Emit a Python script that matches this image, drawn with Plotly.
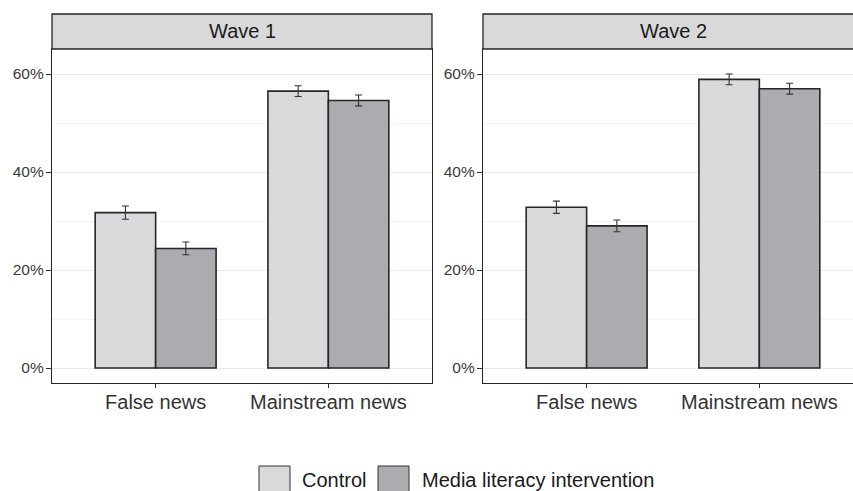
import plotly.graph_objects as go

categories = ["False news", "Mainstream news"]
series_names = ["Control", "Media literacy intervention"]
waves = ["Wave 1", "Wave 2"]

# values in percent
wave1_control = [31.7, 56.5]
wave1_control_err = [1.35, 1.1]
wave1_intervention = [24.4, 54.6]
wave1_intervention_err = [1.3, 1.1]
wave2_control = [32.8, 58.9]
wave2_control_err = [1.25, 1.1]
wave2_intervention = [29.0, 57.0]
wave2_intervention_err = [1.2, 1.1]

y_tickvals = [0, 20, 40, 60]
y_ticktext = ["0%", "20%", "40%", "60%"]

colors = ["#D9D9DB", "#ABACAF"]
W, H = 853, 491
FONT = "Liberation Sans, Arial, sans-serif"
BORDER = "#262626"

fig = go.Figure()

panels = [
    ("x", "y", [wave1_control, wave1_intervention], [wave1_control_err, wave1_intervention_err]),
    ("x2", "y2", [wave2_control, wave2_intervention], [wave2_control_err, wave2_intervention_err]),
]
for xa, ya, vals, errs in panels:
    for i in range(2):
        fig.add_trace(go.Bar(
            x=categories, y=vals[i], name=series_names[i],
            xaxis=xa, yaxis=ya, showlegend=False, offsetgroup=str(i),
            marker=dict(color=colors[i], line=dict(color=BORDER, width=1.6)),
            error_y=dict(type="data", array=errs[i], color="#333333", thickness=1.1, width=3.5),
        ))

# geometry (pixels)
px_l1, px_r1 = 52, 432
px_l2, px_r2 = 483, 863
top, bottom = 49, 383
strip_top = 14
unit = (px_r1 - px_l1) / 2.2

def fx(p):
    return p / W

def fy(p):
    return 1 - p / H

yrange = [-(bottom - 368) / 4.9, (368 - top) / 4.9]

common_y = dict(
    range=yrange, tickvals=y_tickvals, ticktext=y_ticktext,
    ticks="outside", ticklen=5, tickcolor="#333333", tickwidth=1,
    tickfont=dict(family=FONT, size=15.5, color="#3A3A3A"),
    showgrid=True, gridcolor="#EBEBEB", gridwidth=1.1,
    minor=dict(tickvals=[10, 30, 50], showgrid=True, gridcolor="#F3F3F3", gridwidth=0.6, ticks=""),
    zeroline=False, showline=True, linecolor=BORDER, linewidth=1.3,
    domain=[fy(bottom), fy(top)], fixedrange=True, ticklabelstandoff=-1,
)
common_x = dict(
    type="category", ticks="outside", ticklen=4, tickcolor="#333333", tickwidth=1,
    tickfont=dict(family=FONT, size=20, color="#333333"),
    showgrid=False, zeroline=False, showline=True, linecolor=BORDER, linewidth=1.3,
    fixedrange=True, ticklabelstandoff=-3,
)

fig.update_layout(
    width=W, height=H, autosize=False,
    margin=dict(l=0, r=0, t=0, b=0),
    paper_bgcolor="white", plot_bgcolor="white",
    barmode="group", bargap=0.3, bargroupgap=0,
    xaxis=dict(common_x, domain=[fx(px_l1), fx(px_r1)], range=[-0.6, 1.6], mirror=True, anchor="y"),
    yaxis=dict(common_y, mirror=True, anchor="x"),
    xaxis2=dict(common_x, domain=[fx(px_l2), 1.0], range=[-0.6, -0.6 + (W - px_l2) / unit], mirror=True, anchor="y2"),
    yaxis2=dict(common_y, mirror=False, anchor="x2"),
)

shapes = []
annotations = []
for (l, r), name in zip([(px_l1, px_r1), (px_l2, px_r2)], waves):
    shapes.append(dict(type="rect", xref="paper", yref="paper",
                       x0=fx(l), x1=fx(r), y0=fy(top), y1=fy(strip_top),
                       fillcolor="#D9D9D9", line=dict(color=BORDER, width=1.3), layer="above"))
    annotations.append(dict(xref="paper", yref="paper", x=fx((l + r) / 2), y=fy((top + strip_top) / 2),
                            text=name, showarrow=False, xanchor="center", yanchor="middle",
                            font=dict(family=FONT, size=20, color="#1A1A1A")))

# legend drawn manually
legend_items = [(259, 290, 300), (378, 409, 420)]
for (b0, b1, tx), name, col in zip(legend_items, series_names, colors):
    shapes.append(dict(type="rect", xref="paper", yref="paper",
                       x0=fx(b0), x1=fx(b1), y0=fy(497), y1=fy(466),
                       fillcolor=col, line=dict(color="#333333", width=1)))
    annotations.append(dict(xref="paper", yref="paper", x=fx(tx), y=fy(480),
                            text=name, showarrow=False, xanchor="left", yanchor="middle",
                            font=dict(family=FONT, size=20, color="#1A1A1A")))

fig.update_layout(shapes=shapes, annotations=annotations)
fig.write_html("out.html", config={"displayModeBar": False},
               post_script="document.body.style.margin='0';document.body.style.overflow='hidden';")
